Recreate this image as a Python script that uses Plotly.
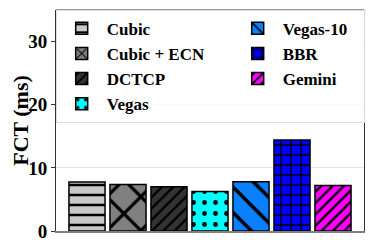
import plotly.graph_objects as go

categories = ["Cubic", "Cubic + ECN", "DCTCP", "Vegas", "Vegas-10", "BBR", "Gemini"]
fct_ms = [7.75, 7.35, 7.0, 6.25, 7.8, 14.4, 7.2]
y_ticks = [0, 10, 20, 30]

fills = ["#c8c8c8", "#808080", "#333333", "#00ffff", "#0a80ff", "#0000ff", "#ff00ff"]
shapes = ["-", "x", "/", ".", "\\", "+", "/"]
psizes = [10, 24, 8, 11, 18, 10, 8]
solid = [0.25, 0.25, 0.3, 0.15, 0.2, 0.25, 0.3]
ranks = [1, 3, 5, 7, 2, 4, 6]

font = "Liberation Serif, Times New Roman, serif"
fig = go.Figure()
for i, c in enumerate(categories):
    fig.add_trace(go.Bar(
        x=[c], y=[fct_ms[i]], name=c, width=0.88, legendrank=ranks[i],
        marker=dict(color=fills[i], line=dict(color="black", width=1.5),
                    pattern=dict(shape=shapes[i], fgcolor="black", bgcolor=fills[i],
                                 size=psizes[i], solidity=solid[i], fillmode="replace")),
    ))

# page body adds an 8px offset; figure is sized to fill the rest of the window
fig.update_layout(
    width=366, height=240,
    margin=dict(l=48, r=10, t=2, b=17, autoexpand=False),
    plot_bgcolor="white", paper_bgcolor="white",
    font=dict(family=font, color="black"),
    showlegend=True,
    legend=dict(orientation="h", x=-0.001, y=1.001, xanchor="left", yanchor="top",
                entrywidth=121, entrywidthmode="pixels", itemwidth=40,
                font=dict(family=font, size=17, color="black", weight="bold"),
                bgcolor="rgba(255,255,255,0.8)", bordercolor="#dddddd", borderwidth=1,
                traceorder="normal"),
    xaxis=dict(categoryorder="array", categoryarray=categories,
               range=[-0.756, 6.756], showticklabels=False, ticks="",
               showline=True, linecolor="#808080", linewidth=2, showgrid=False,
               zeroline=False, automargin=False),
    yaxis=dict(range=[0, 35], tickvals=y_ticks, ticks="outside", ticklen=4,
               tickcolor="#333", showline=True, linecolor="#333", linewidth=1,
               mirror=True, showgrid=True, gridcolor="#e6e6e6", zeroline=False,
               automargin=False,
               tickfont=dict(family=font, size=19, color="black", weight="bold"),
               title=dict(text="<b>FCT (ms)</b>", font=dict(family=font, size=22),
                          standoff=4)),
    shapes=[dict(type="line", xref="paper", yref="paper", x0=0, x1=1, y0=1, y1=1,
                 line=dict(color="#333", width=1))],
)
fig.write_html("out.html")
